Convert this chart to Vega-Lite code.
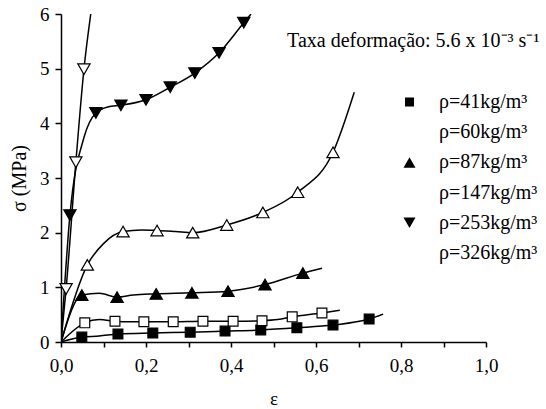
{
  "$schema": "https://vega.github.io/schema/vega-lite/v6.json",
  "width": 425,
  "height": 328,
  "autosize": {"type": "none"},
  "padding": {"left": 61, "top": 14, "right": 60, "bottom": 67},
  "background": "white",
  "config": {
    "font": "Liberation Serif",
    "view": {"stroke": null},
    "axis": {
      "grid": false,
      "domainColor": "black",
      "domainWidth": 1.5,
      "tickColor": "black",
      "tickWidth": 1.5,
      "labelColor": "black",
      "labelFont": "Liberation Serif",
      "labelFontSize": 19,
      "titleColor": "black",
      "titleFont": "Liberation Serif",
      "titleFontSize": 20,
      "titleFontWeight": "normal",
      "labelFlush": false,
      "labelOverlap": false
    },
    "legend": {
      "orient": "none",
      "legendX": 320,
      "legendY": 78,
      "padding": 0,
      "clipHeight": 20,
      "rowPadding": 10.2,
      "labelOffset": 1,
      "labelFont": "Liberation Serif",
      "labelFontSize": 20,
      "labelColor": "black",
      "labelLimit": 220,
      "symbolSize": 3025,
      "symbolStrokeWidth": 1.5,
      "symbolStrokeColor": "black",
      "symbolOpacity": 1
    }
  },
  "datasets": {
    "curves": [
      {"rho": 41, "e": 0.0, "s": 0.0, "m": 0},
      {"rho": 41, "e": 0.049, "s": 0.09, "m": 1},
      {"rho": 41, "e": 0.09, "s": 0.11, "m": 0},
      {"rho": 41, "e": 0.134, "s": 0.146, "m": 1},
      {"rho": 41, "e": 0.216, "s": 0.165, "m": 1},
      {"rho": 41, "e": 0.304, "s": 0.18, "m": 1},
      {"rho": 41, "e": 0.386, "s": 0.2, "m": 1},
      {"rho": 41, "e": 0.47, "s": 0.22, "m": 1},
      {"rho": 41, "e": 0.555, "s": 0.26, "m": 1},
      {"rho": 41, "e": 0.64, "s": 0.31, "m": 1},
      {"rho": 41, "e": 0.725, "s": 0.42, "m": 1},
      {"rho": 41, "e": 0.758, "s": 0.51, "m": 0},

      {"rho": 60, "e": 0.0, "s": 0.0, "m": 0},
      {"rho": 60, "e": 0.056, "s": 0.35, "m": 1},
      {"rho": 60, "e": 0.09, "s": 0.41, "m": 0},
      {"rho": 60, "e": 0.127, "s": 0.38, "m": 1},
      {"rho": 60, "e": 0.16, "s": 0.37, "m": 0},
      {"rho": 60, "e": 0.195, "s": 0.37, "m": 1},
      {"rho": 60, "e": 0.264, "s": 0.37, "m": 1},
      {"rho": 60, "e": 0.334, "s": 0.38, "m": 1},
      {"rho": 60, "e": 0.405, "s": 0.38, "m": 1},
      {"rho": 60, "e": 0.473, "s": 0.39, "m": 1},
      {"rho": 60, "e": 0.51, "s": 0.41, "m": 0},
      {"rho": 60, "e": 0.544, "s": 0.46, "m": 1},
      {"rho": 60, "e": 0.614, "s": 0.53, "m": 1},
      {"rho": 60, "e": 0.656, "s": 0.58, "m": 0},

      {"rho": 87, "e": 0.0, "s": 0.0, "m": 0},
      {"rho": 87, "e": 0.049, "s": 0.86, "m": 1},
      {"rho": 87, "e": 0.09, "s": 0.89, "m": 0},
      {"rho": 87, "e": 0.132, "s": 0.82, "m": 1},
      {"rho": 87, "e": 0.17, "s": 0.86, "m": 0},
      {"rho": 87, "e": 0.224, "s": 0.88, "m": 1},
      {"rho": 87, "e": 0.308, "s": 0.9, "m": 1},
      {"rho": 87, "e": 0.393, "s": 0.93, "m": 1},
      {"rho": 87, "e": 0.48, "s": 1.05, "m": 1},
      {"rho": 87, "e": 0.569, "s": 1.26, "m": 1},
      {"rho": 87, "e": 0.614, "s": 1.35, "m": 0},

      {"rho": 147, "e": 0.0, "s": 0.0, "m": 0},
      {"rho": 147, "e": 0.062, "s": 1.41, "m": 1},
      {"rho": 147, "e": 0.1, "s": 1.8, "m": 0},
      {"rho": 147, "e": 0.146, "s": 2.02, "m": 1},
      {"rho": 147, "e": 0.19, "s": 2.05, "m": 0},
      {"rho": 147, "e": 0.226, "s": 2.04, "m": 1},
      {"rho": 147, "e": 0.27, "s": 2.02, "m": 0},
      {"rho": 147, "e": 0.31, "s": 2.0, "m": 1},
      {"rho": 147, "e": 0.39, "s": 2.14, "m": 1},
      {"rho": 147, "e": 0.475, "s": 2.37, "m": 1},
      {"rho": 147, "e": 0.557, "s": 2.74, "m": 1},
      {"rho": 147, "e": 0.64, "s": 3.47, "m": 1},
      {"rho": 147, "e": 0.69, "s": 4.57, "m": 0},

      {"rho": 253, "e": 0.0, "s": 0.0, "m": 0},
      {"rho": 253, "e": 0.021, "s": 2.32, "m": 1},
      {"rho": 253, "e": 0.054, "s": 3.74, "m": 0},
      {"rho": 253, "e": 0.082, "s": 4.19, "m": 1},
      {"rho": 253, "e": 0.11, "s": 4.3, "m": 0},
      {"rho": 253, "e": 0.141, "s": 4.33, "m": 1},
      {"rho": 253, "e": 0.2, "s": 4.43, "m": 1},
      {"rho": 253, "e": 0.257, "s": 4.66, "m": 1},
      {"rho": 253, "e": 0.315, "s": 4.92, "m": 1},
      {"rho": 253, "e": 0.372, "s": 5.29, "m": 1},
      {"rho": 253, "e": 0.43, "s": 5.84, "m": 1},
      {"rho": 253, "e": 0.447, "s": 6.0, "m": 0},

      {"rho": 326, "e": 0.0, "s": 0.0, "m": 0},
      {"rho": 326, "e": 0.012, "s": 0.97, "m": 1},
      {"rho": 326, "e": 0.035, "s": 3.29, "m": 1},
      {"rho": 326, "e": 0.054, "s": 4.99, "m": 1},
      {"rho": 326, "e": 0.07, "s": 6.0, "m": 0}
    ],
    "note": [
      {"e": 0.532, "s": 5.4, "t": "Taxa deformação: 5.6 x 10⁻³ s⁻¹"}
    ]
  },
  "resolve": {"scale": {"shape": "independent", "fill": "independent"}},
  "layer": [
    {
      "data": {"name": "curves"},
      "mark": {"type": "line", "color": "black", "strokeWidth": 1.5, "interpolate": "monotone", "clip": true},
      "encoding": {
        "x": {
          "field": "e", "type": "quantitative",
          "scale": {"domain": [0, 1], "nice": false, "zero": false},
          "axis": {
            "title": "ε",
            "values": [0, 0.1, 0.2, 0.3, 0.4, 0.5, 0.6, 0.7, 0.8, 0.9, 1.0],
            "labelExpr": "round(datum.value * 10) % 2 == 0 ? replace(format(datum.value, '.1f'), '.', ',') : ''",
            "labelFont": "Liberation Serif",
            "titleFont": "Liberation Serif",
            "titleFontSize": 19,
            "tickSize": 5,
            "labelPadding": 9,
            "titlePadding": 14,
            "encode": {"ticks": {"y2": {"value": {"expr": "round(datum.value * 10) % 2 == 0 ? 5 : -3"}}}}
          }
        },
        "y": {
          "field": "s", "type": "quantitative",
          "scale": {"domain": [0, 6], "nice": false, "zero": false},
          "axis": {
            "title": "σ (MPa)",
            "values": [0, 0.5, 1, 1.5, 2, 2.5, 3, 3.5, 4, 4.5, 5, 5.5, 6],
            "labelExpr": "datum.value % 1 == 0 ? format(datum.value, 'd') : ''",
            "labelFont": "Liberation Serif",
            "titleFont": "Liberation Serif",
            "tickSize": 6,
            "labelPadding": 6,
            "titlePadding": 10,
            "encode": {"ticks": {"x2": {"value": {"expr": "datum.value % 1 == 0 ? -6 : -3"}}}}
          }
        },
        "detail": {"field": "rho", "type": "nominal"},
        "order": {"field": "e", "type": "quantitative"}
      }
    },
    {
      "data": {"name": "curves"},
      "transform": [{"filter": "datum.m == 1"}],
      "mark": {"type": "point", "filled": true, "opacity": 1, "size": 150, "stroke": "black", "strokeWidth": 1.2},
      "encoding": {
        "x": {"field": "e", "type": "quantitative"},
        "y": {"field": "s", "type": "quantitative"},
        "shape": {
          "field": "rho", "type": "nominal",
          "scale": {
            "domain": [41, 60, 87, 147, 253, 326],
            "range": ["M-0.8,-0.8H0.8V0.8H-0.8Z", "M-0.8,-0.8H0.8V0.8H-0.8Z", "triangle-up", "triangle-up", "triangle-down", "triangle-down"]
          },
          "legend": null
        },
        "fill": {
          "field": "rho", "type": "nominal",
          "scale": {"domain": [41, 60, 87, 147, 253, 326], "range": ["black", "white", "black", "white", "black", "white"]},
          "legend": null
        }
      }
    },
    {
      "data": {"name": "curves"},
      "transform": [{"filter": "false"}],
      "mark": {"type": "point", "filled": true, "opacity": 1, "size": 3025, "strokeWidth": 1.5},
      "encoding": {
        "shape": {
          "field": "rho", "type": "nominal",
          "scale": {
            "domain": [41, 60, 87, 147, 253, 326],
            "range": [
              "M-1,0H-0.164M0.164,0H1M-0.164,-0.164H0.164V0.164H-0.164Z",
              "M-1,0H-0.164M0.164,0H1M-0.164,-0.164H0.164V0.164H-0.164Z",
              "M-1,0H-0.11M0.11,0H1M0,-0.19L0.218,0.19H-0.218Z",
              "M-1,0H-0.11M0.11,0H1M0,-0.19L0.218,0.19H-0.218Z",
              "M-1,0H-0.11M0.11,0H1M0,0.19L0.218,-0.19H-0.218Z",
              "M-1,0H-0.11M0.11,0H1M0,0.19L0.218,-0.19H-0.218Z"
            ]
          },
          "legend": {"title": null, "labelExpr": "'ρ=' + datum.label + 'kg/m³'"}
        },
        "fill": {
          "field": "rho", "type": "nominal",
          "scale": {"domain": [41, 60, 87, 147, 253, 326], "range": ["black", "white", "black", "white", "black", "white"]},
          "legend": {"title": null, "labelExpr": "'ρ=' + datum.label + 'kg/m³'"}
        },
        "stroke": {"value": "black"},
        "strokeWidth": {"value": 1.5}
      }
    },
    {
      "data": {"name": "note"},
      "mark": {"type": "text", "align": "left", "baseline": "alphabetic", "font": "Liberation Serif", "fontSize": 20, "color": "black"},
      "encoding": {
        "x": {"field": "e", "type": "quantitative"},
        "y": {"field": "s", "type": "quantitative"},
        "text": {"field": "t"}
      }
    }
  ]
}
